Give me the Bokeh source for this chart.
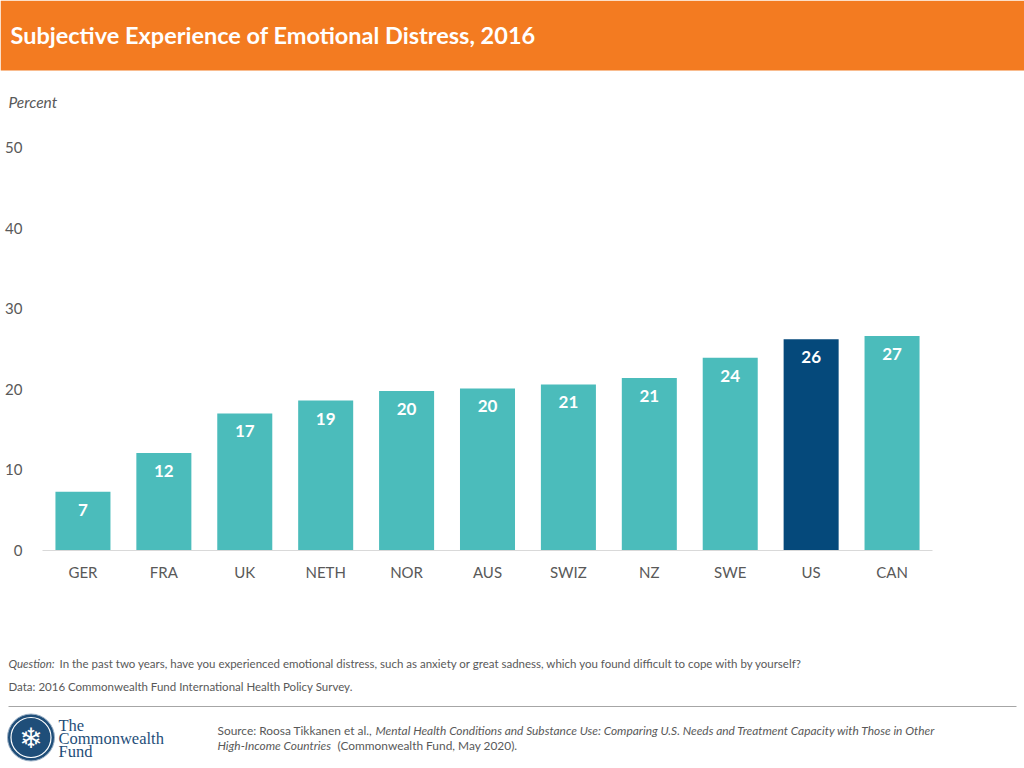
from bokeh.plotting import figure
from bokeh.layouts import column, row
from bokeh.models import ColumnDataSource, FactorRange, Range1d, FixedTicker
from bokeh.core.properties import value
from bokeh.embed import file_html
from bokeh.resources import INLINE

# ---- data ----
countries = ["GER", "FRA", "UK", "NETH", "NOR", "AUS", "SWIZ", "NZ", "SWE", "US", "CAN"]
percent = [7.3, 12.1, 17.0, 18.6, 19.8, 20.1, 20.6, 21.4, 23.9, 26.2, 26.6]
bar_labels = ["7", "12", "17", "19", "20", "20", "21", "21", "24", "26", "27"]
y_ticks = [0, 10, 20, 30, 40, 50]

TEAL = "#4BBCBB"
NAVY = "#05497B"
ORANGE = "#F37B21"
GRAY_TXT = "#595959"
LOGO = "#1F4E79"
FONT = "Lato"

W = 1024
HEAD_H, CHART_H, FOOT_H = 130, 470, 168


def canvas_fig(h, y0):
    f = figure(width=W, height=h, x_range=Range1d(0, W), y_range=Range1d(y0 + h, y0),
               output_backend="svg", toolbar_location=None,
               x_axis_location=None, y_axis_location=None,
               min_border=0, min_border_left=0, min_border_right=0,
               min_border_top=0, min_border_bottom=0)
    f.outline_line_color = None
    f.xgrid.visible = False
    f.ygrid.visible = False
    f.background_fill_color = "white"
    f.border_fill_color = "white"
    return f


def txt(f, x, y, s, size, color=GRAY_TXT, style="normal", font=FONT, align="left"):
    f.text(x=[x], y=[y], text=[s], text_font=value(font), text_font_size=size,
           text_color=color, text_font_style=style, text_align=align, text_baseline="middle")


# ---- header ----
head = canvas_fig(HEAD_H, 0)
head.quad(left=[0], right=[W], top=[0], bottom=[70], fill_color=ORANGE, line_color=None)
txt(head, 10, 34, "Subjective Experience of Emotional Distress, 2016", "23.5px", color="white", style="bold")
txt(head, 8, 101, "Percent", "15.5px", style="italic")

# ---- chart ----
colors = [NAVY if c == "US" else TEAL for c in countries]
src = ColumnDataSource(dict(country=countries, pct=percent, label=bar_labels, color=colors))

p = figure(width=W, height=CHART_H, x_range=FactorRange(*countries), y_range=Range1d(0, 50),
           output_backend="svg", toolbar_location=None,
           min_border_left=42, min_border_right=92, min_border_top=17, min_border_bottom=50)
p.outline_line_color = None
p.background_fill_color = "white"
p.border_fill_color = "white"
p.xgrid.grid_line_color = None
p.ygrid.grid_line_color = None
p.x_range.range_padding = 0

p.vbar(x="country", top="pct", width=0.68, source=src, fill_color="color", line_color=None)
p.text(x="country", y="pct", text="label", source=src, text_color="white",
       text_font=value(FONT), text_font_style="bold", text_font_size="17px",
       text_align="center", text_baseline="middle", y_offset=18)

p.yaxis.ticker = FixedTicker(ticks=y_ticks)
p.yaxis.axis_line_color = None
p.yaxis.major_tick_line_color = None
p.yaxis.minor_tick_line_color = None
p.yaxis.major_label_text_font = FONT
p.yaxis.major_label_text_font_size = "15px"
p.yaxis.major_label_text_color = GRAY_TXT
p.yaxis.major_label_standoff = 14

p.xaxis.axis_line_color = "#D9D9D9"
p.xaxis.axis_line_width = 1
p.xaxis.major_tick_line_color = None
p.xaxis.minor_tick_line_color = None
p.xaxis.major_label_text_font = FONT
p.xaxis.major_label_text_font_size = "15px"
p.xaxis.major_label_text_color = GRAY_TXT
p.xaxis.major_label_standoff = 6

# ---- footer ----
foot = canvas_fig(FOOT_H, HEAD_H + CHART_H)
txt(foot, 8, 663, "Question:", "11.5px", style="italic")
txt(foot, 59, 663, "In the past two years, have you experienced emotional distress, such as anxiety or great sadness, which you found difficult to cope with by yourself?", "11.5px")
txt(foot, 8, 686, "Data: 2016 Commonwealth Fund International Health Policy Survey.", "11.5px")
foot.segment(x0=[8], y0=[706], x1=[1016], y1=[706], line_color="#A6A6A6", line_width=1)

# logo
foot.scatter(x=[30.5], y=[737], size=47, marker="circle", fill_color=LOGO,
             line_color="#9FB3C8", line_width=1)
foot.scatter(x=[30.5], y=[737], size=40, marker="circle", fill_color=None,
             line_color="white", line_width=1.2)
txt(foot, 30.5, 738, "\u2744", "28px", color="white", font="DejaVu Sans", align="center")
txt(foot, 58, 725, "The", "16.5px", color=LOGO, font="Liberation Serif")
txt(foot, 58, 738, "Commonwealth", "16.5px", color=LOGO, font="Liberation Serif")
txt(foot, 58, 751, "Fund", "16.5px", color=LOGO, font="Liberation Serif")

# source
txt(foot, 217, 730, "Source: Roosa Tikkanen et al.,", "11.9px")
txt(foot, 375, 730, "Mental Health Conditions and Substance Use: Comparing U.S. Needs and Treatment Capacity with Those in Other", "11.9px", style="italic")
txt(foot, 217, 745, "High-Income Countries", "11.9px", style="italic")
txt(foot, 337, 745, "(Commonwealth Fund, May 2020).", "11.9px")

layout = column(row(head), row(p), row(foot), spacing=0)
open("out.html", "w").write(file_html(layout, INLINE))
